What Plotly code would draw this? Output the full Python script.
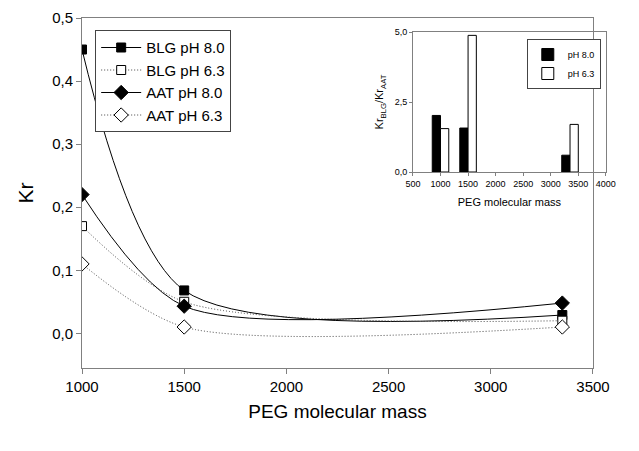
import plotly.graph_objects as go

# ---- main chart data ----
peg = [1000, 1500, 3350]
blg_ph80 = [0.45, 0.068, 0.029]
blg_ph63 = [0.17, 0.05, 0.02]
aat_ph80 = [0.22, 0.043, 0.048]
aat_ph63 = [0.11, 0.01, 0.01]

# ---- inset data ----
ratio_ph80 = [2.02, 1.57, 0.6]
ratio_ph63 = [1.55, 4.88, 1.7]

FONT = "Arial, Liberation Sans, sans-serif"
AX = "#808080"

fig = go.Figure()

def add_line(y, name, symbol, filled, dotted):
    fig.add_trace(go.Scatter(
        x=peg, y=y, name=name, mode="lines+markers",
        line=dict(color="#000" if not dotted else "#444", width=1,
                  dash="1px,2px" if dotted else "solid", shape="spline", smoothing=0.8),
        marker=dict(symbol=symbol, size=9 if symbol == "square" else 11,
                    color="#000" if filled else "#fff",
                    line=dict(color="#000", width=1)),
        legend="legend", xaxis="x", yaxis="y",
    ))

add_line(blg_ph80, "BLG pH 8.0", "square", True, False)
add_line(blg_ph63, "BLG pH 6.3", "square", False, True)
add_line(aat_ph80, "AAT pH 8.0", "diamond", True, False)
add_line(aat_ph63, "AAT pH 6.3", "diamond", False, True)

fig.add_trace(go.Bar(x=peg, y=ratio_ph80, name="pH 8.0", marker=dict(color="#000", line=dict(color="#000", width=1)),
                     xaxis="x2", yaxis="y2", legend="legend2"))
fig.add_trace(go.Bar(x=peg, y=ratio_ph63, name="pH 6.3", marker=dict(color="#fff", line=dict(color="#000", width=1)),
                     xaxis="x2", yaxis="y2", legend="legend2"))

common = dict(showline=True, linecolor=AX, linewidth=1, mirror=True, ticks="outside", tickcolor=AX,
              showgrid=False, zeroline=False, automargin=False)

fig.update_layout(
    width=639, height=451,
    margin=dict(l=82, r=30, t=18, b=83, autoexpand=False),
    paper_bgcolor="white", plot_bgcolor="rgba(0,0,0,0)",
    separators=",.",
    font=dict(family=FONT, color="#000"),
    barmode="group", bargap=0.4, bargroupgap=0,
    xaxis=dict(domain=[0, 0.9696], range=[1000, 3500], tickvals=[1000, 1500, 2000, 2500, 3000, 3500],
               ticklen=5, tickfont=dict(size=15),
               title=dict(text="PEG molecular mass", font=dict(size=19), standoff=10), **common),
    yaxis=dict(domain=[0, 1], range=[-0.055, 0.5], tickvals=[0, 0.1, 0.2, 0.3, 0.4, 0.5], tickformat=".1f",
               ticklen=5, tickfont=dict(size=15),
               title=dict(text="Kr", font=dict(size=21), standoff=12), **common),
    xaxis2=dict(domain=[0.628, 0.994], anchor="y2", range=[500, 4000], dtick=500,
                ticklen=3, tickfont=dict(size=9),
                title=dict(text="PEG molecular mass", font=dict(size=11), standoff=10), **common),
    yaxis2=dict(domain=[0.56, 0.96], anchor="x2", range=[0, 5], tickvals=[0, 2.5, 5], tickformat=".1f",
                ticklen=3, tickfont=dict(size=9),
                title=dict(text="Kr<sub>BLG</sub>/Kr<sub>AAT</sub>", font=dict(size=11), standoff=8), **common),
    legend=dict(x=0.025, y=0.965, xanchor="left", yanchor="top", bgcolor="white",
                bordercolor="#444", borderwidth=1, font=dict(size=15), tracegroupgap=0, itemwidth=40),
    legend2=dict(x=0.844, y=0.94, xanchor="left", yanchor="top", bgcolor="white",
                 bordercolor="#444", borderwidth=1, font=dict(size=9)),
    showlegend=True,
)

fig.write_html("out.html", config={"displayModeBar": False},
               post_script="document.body.style.margin='0';")
